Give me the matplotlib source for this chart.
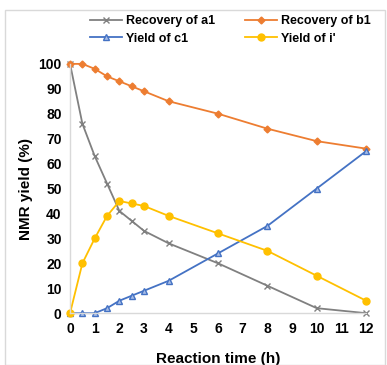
import matplotlib
matplotlib.use("Agg")
import matplotlib.pyplot as plt
from matplotlib.patches import Rectangle

plt.rcParams["font.family"] = ["Liberation Sans", "DejaVu Sans"]
plt.rcParams["font.weight"] = "bold"

# Reaction time (h)
time_h = [0, 0.5, 1, 1.5, 2, 2.5, 3, 4, 6, 8, 10, 12]

# NMR yields (%)
recovery_a1 = [100, 76, 63, 52, 41, 37, 33, 28, 20, 11, 2, 0]
recovery_b1 = [100, 100, 98, 95, 93, 91, 89, 85, 80, 74, 69, 66]
yield_c1 = [0, 0, 0, 2, 5, 7, 9, 13, 24, 35, 50, 65]
yield_i = [0, 20, 30, 39, 45, 44, 43, 39, 32, 25, 15, 5]

x_ticks = list(range(0, 13))
y_ticks = list(range(0, 101, 10))

fig = plt.figure(figsize=(3.87, 3.65), dpi=100)
ax = fig.add_axes([0.181, 0.142, 0.765, 0.683])

# light frame around the whole chart
fig.patches.append(Rectangle((5 / 387, 0), 380 / 387, 355 / 365,
                             transform=fig.transFigure, fill=False,
                             edgecolor="#d9d9d9", linewidth=1.0))

ax.plot(time_h, recovery_a1, color="#808080", marker="x", markersize=4,
        markeredgewidth=1.0, linewidth=1.3, label="Recovery of a1", clip_on=False)
ax.plot(time_h, recovery_b1, color="#ed7d31", marker="D", markersize=3.5,
        linewidth=1.3, label="Recovery of b1", clip_on=False)
ax.plot(time_h, yield_c1, color="#4472c4", marker="^", markersize=4.5,
        markerfacecolor="#a9bde6", markeredgewidth=1.0, linewidth=1.3,
        label="Yield of c1", clip_on=False)
ax.plot(time_h, yield_i, color="#ffc000", marker="o", markersize=5,
        linewidth=1.3, label="Yield of i'", clip_on=False)

ax.set_xlim(0, 12)
ax.set_ylim(0, 100)
ax.set_xticks(x_ticks)
ax.set_yticks(y_ticks)
ax.tick_params(axis="both", length=0, labelsize=10, pad=6)
for lab in ax.get_xticklabels() + ax.get_yticklabels():
    lab.set_fontweight("bold")

for side in ["top", "right"]:
    ax.spines[side].set_visible(False)
for side in ["left", "bottom"]:
    ax.spines[side].set_color("#d9d9d9")
    ax.spines[side].set_linewidth(1.0)

ax.set_xlabel("Reaction time (h)", fontsize=11, fontweight="bold", labelpad=12)
ax.set_ylabel("NMR yield (%)", fontsize=11, fontweight="bold", labelpad=4)

handles, labels = ax.get_legend_handles_labels()
order = [0, 2, 1, 3]
leg = fig.legend([handles[i] for i in order], [labels[i] for i in order],
                 loc="upper center", bbox_to_anchor=(0.595, 0.99), ncol=2,
                 frameon=False, fontsize=9,
                 handlelength=2.6, columnspacing=2.4, labelspacing=0.45,
                 handletextpad=0.3)
for txt in leg.get_texts():
    txt.set_fontweight("bold")

fig.savefig("out.png", dpi=100)
